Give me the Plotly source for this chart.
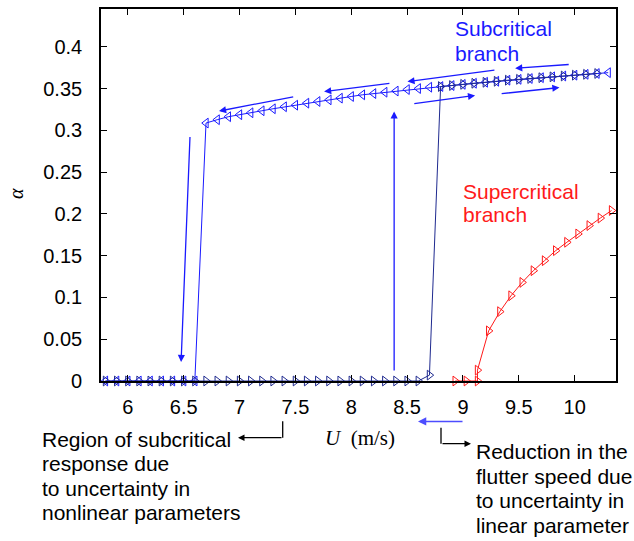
import plotly.graph_objects as go

# ---------------- data ----------------
# backward sweep (decreasing U): upper branch then drop to zero
U_back = [10.3, 10.2, 10.1, 10.0, 9.9, 9.8, 9.7, 9.6, 9.5, 9.4, 9.3, 9.2, 9.1, 9.0,
          8.9, 8.8, 8.7, 8.6, 8.5, 8.4, 8.3, 8.2, 8.1, 8.0, 7.9, 7.8, 7.7, 7.6, 7.5,
          7.4, 7.3, 7.2, 7.1, 7.0, 6.9, 6.8, 6.7, 6.6, 6.5, 6.4, 6.3, 6.2, 6.1, 6.0,
          5.9, 5.8]
A_back = [0.369, 0.368, 0.367, 0.366, 0.365, 0.364, 0.363, 0.362, 0.361, 0.360,
          0.3587, 0.3575, 0.3563, 0.355, 0.3536, 0.3524, 0.3516, 0.350, 0.3488, 0.347,
          0.3456, 0.344, 0.3425, 0.3405, 0.3385, 0.3365, 0.3345, 0.3325, 0.3301, 0.3282,
          0.3258, 0.3234, 0.321, 0.3187, 0.3163, 0.3127, 0.3087,
          0, 0, 0, 0, 0, 0, 0, 0, 0]

# forward sweep (increasing U): zero branch then jump to upper branch
U_fwd = [5.8, 5.9, 6.0, 6.1, 6.2, 6.3, 6.4, 6.5, 6.6, 6.7, 6.8, 6.9, 7.0, 7.1, 7.2,
         7.3, 7.4, 7.5, 7.6, 7.7, 7.8, 7.9, 8.0, 8.1, 8.2, 8.3, 8.4, 8.5, 8.6, 8.7,
         8.8, 8.9, 9.0, 9.1, 9.2, 9.3, 9.4, 9.5, 9.6, 9.7, 9.8, 9.9, 10.0, 10.1, 10.2]
A_fwd = [0, 0, 0, 0, 0, 0, 0, 0, 0, 0, 0, 0, 0, 0, 0,
         0, 0, 0, 0, 0, 0, 0, 0, 0, 0, 0, 0, 0, 0, 0.007,
         0.3524, 0.3536, 0.355, 0.3563, 0.3575, 0.3587, 0.360, 0.361, 0.362, 0.363,
         0.364, 0.365, 0.366, 0.367, 0.368]

# supercritical branch
U_sup = [8.93, 9.03, 9.13, 9.13, 9.23, 9.33, 9.43, 9.53, 9.63, 9.73, 9.83, 9.93,
         10.03, 10.13, 10.23, 10.33]
A_sup = [0, 0, 0, 0.013, 0.060, 0.083, 0.102, 0.118, 0.132, 0.144, 0.156, 0.166,
         0.176, 0.186, 0.195, 0.204]

x_ticks = [6, 6.5, 7, 7.5, 8, 8.5, 9, 9.5, 10]
x_tick_text = ["6", "6.5", "7", "7.5", "8", "8.5", "9", "9.5", "10"]
y_ticks = [0, 0.05, 0.1, 0.15, 0.2, 0.25, 0.3, 0.35, 0.4]
y_tick_text = ["0", "0.05", "0.1", "0.15", "0.2", "0.25", "0.3", "0.35", "0.4"]

# ---------------- styling ----------------
BLUE = "#1a1aff"
NAVY = "#1f2a8f"
RED = "#ff1a1a"
SANS = "Liberation Sans, Arial, sans-serif"
SERIF = "Liberation Serif, Times New Roman, serif"

W, H = 634, 541
L, R, T, B = 101, 18, 7, 160
PW, PH = W - L - R, H - T - B


def px(xp):
    return (xp - L) / PW


def py(yp):
    return (H - B - yp) / PH


fig = go.Figure()
fig.add_trace(go.Scatter(x=U_back, y=A_back, mode="lines+markers",
                         line=dict(color=BLUE, width=1),
                         marker=dict(symbol="triangle-left-open", size=8.5,
                                     color=BLUE, line=dict(width=1)),
                         showlegend=False, cliponaxis=False))
fig.add_trace(go.Scatter(x=U_fwd, y=A_fwd, mode="lines+markers",
                         line=dict(color=NAVY, width=1),
                         marker=dict(symbol="triangle-right-open", size=8.5,
                                     color=NAVY, line=dict(width=1)),
                         showlegend=False, cliponaxis=False))
fig.add_trace(go.Scatter(x=U_sup, y=A_sup, mode="lines+markers",
                         line=dict(color=RED, width=1),
                         marker=dict(symbol="triangle-right-open", size=8.5,
                                     color=RED, line=dict(width=1)),
                         showlegend=False, cliponaxis=False))

annotations = []

# blue arrows along branches (head, tail) in data coords
data_arrows = [
    ((6.816, 0.3230), (7.494, 0.3405)),
    ((7.757, 0.3464), (8.355, 0.3563)),
    ((8.503, 0.3583), (9.295, 0.3723)),
    ((9.467, 0.3742), (9.960, 0.3789)),
    ((9.109, 0.3417), (8.551, 0.3318)),
    ((9.864, 0.3512), (9.333, 0.3437)),
    ((6.477, 0.0226), (6.557, 0.2937)),
    ((8.384, 0.3226), (8.384, 0.0107)),
]
for (hx, hy), (tx, ty) in data_arrows:
    annotations.append(dict(x=hx, y=hy, ax=tx, ay=ty, xref="x", yref="y",
                            axref="x", ayref="y", text="", showarrow=True,
                            arrowhead=2, arrowsize=1.1, arrowwidth=1.3,
                            arrowcolor=BLUE))

# light blue arrow under the axis
annotations.append(dict(x=px(418), y=py(421.7), xref="paper", yref="paper",
                        ax=46, ay=0, text="", showarrow=True, arrowhead=2,
                        arrowsize=1.1, arrowwidth=1.5, arrowcolor="#4d4dff"))
# black bracket arrows
annotations.append(dict(x=px(238), y=py(438), xref="paper", yref="paper",
                        ax=45, ay=0, text="", showarrow=True, arrowhead=2,
                        arrowsize=1.0, arrowwidth=1.3, arrowcolor="black"))
annotations.append(dict(x=px(471), y=py(444), xref="paper", yref="paper",
                        ax=-30, ay=0, text="", showarrow=True, arrowhead=2,
                        arrowsize=1.0, arrowwidth=1.3, arrowcolor="black"))

shapes = [
    dict(type="line", xref="paper", yref="paper", x0=px(282.7), x1=px(282.7),
         y0=py(421.5), y1=py(438), line=dict(color="black", width=1.3)),
    dict(type="line", xref="paper", yref="paper", x0=px(441), x1=px(441),
         y0=py(428), y1=py(444), line=dict(color="black", width=1.3)),
]


def text(s, xp, yp, color="black", size=21, family=SANS, xanchor="left", angle=0):
    annotations.append(dict(x=px(xp), y=py(yp), xref="paper", yref="paper",
                            text=s, showarrow=False, xanchor=xanchor,
                            yanchor="middle", textangle=angle,
                            font=dict(family=family, size=size, color=color)))


text("Subcritical", 453, 27, BLUE)
text("branch", 453, 52, BLUE)
text("Supercritical", 461, 190, RED)
text("branch", 461, 214, RED)

for i, line in enumerate(["Region of subcritical", "response due",
                          "to uncertainty in", "nonlinear parameters"]):
    text(line, 40, 440 + i * 24.3, size=21)
for i, line in enumerate(["Reduction in the", "flutter speed due",
                          "to uncertainty in", "linear parameter"]):
    text(line, 474, 452 + i * 24.8, size=21)

text("<i>U</i>  (m/s)", 360, 438, family=SERIF, size=21, xanchor="center")
text("<i>α</i>", 16, 193, family=SERIF, size=20, xanchor="center", angle=-90)

axis_common = dict(showline=True, linecolor="black", linewidth=1.6, mirror="ticks",
                   ticks="inside", ticklen=6, tickwidth=1.2, tickcolor="black",
                   showgrid=False, zeroline=False,
                   tickfont=dict(family=SANS, size=20, color="black"))

fig.update_layout(
    width=W, height=H,
    margin=dict(l=L, r=R, t=T, b=B),
    paper_bgcolor="white", plot_bgcolor="white",
    xaxis=dict(range=[5.76, 10.37], tickvals=x_ticks, ticktext=x_tick_text,
               ticklabelstandoff=7, **axis_common),
    yaxis=dict(range=[0, 0.4452], tickvals=y_ticks, ticktext=y_tick_text,
               ticklabelstandoff=13, **axis_common),
    annotations=annotations,
    shapes=shapes,
)

fig.write_html("out.html")
